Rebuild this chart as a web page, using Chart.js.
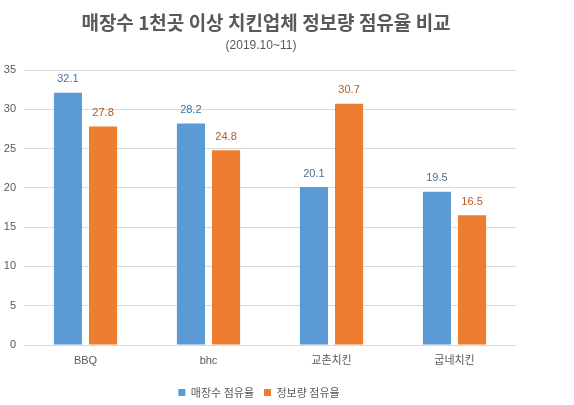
<!DOCTYPE html>
<html><head><meta charset="utf-8">
<script src="https://cdn.jsdelivr.net/npm/chart.js@4"></script>
<style>html,body{margin:0;padding:0;background:#fff;}#wrap{width:574px;height:405px;}</style>
</head><body><div id="wrap"><canvas id="c"></canvas></div>
<script>
const categories = ['BBQ', 'bhc', '교촌치킨', '굽네치킨'];
const storeShare = [32.1, 28.2, 20.1, 19.5];
const infoShare = [27.8, 24.8, 30.7, 16.5];
const seriesNames = ['매장수 점유율', '정보량 점유율'];
const yTicks = [0, 5, 10, 15, 20, 25, 30, 35];
const titleText = '매장수 1천곳 이상 치킨업체 정보량 점유율 비교';
const subtitleText = '(2019.10~11)';

const FONT = "'Liberation Sans', 'Noto Sans CJK KR', sans-serif";
const KFONT = "'Noto Sans CJK KR', sans-serif";
const labelColors = ['#41719C', '#AE5A21'];

const valueLabels = {
  id: 'valueLabels',
  afterDatasetsDraw(chart) {
    const ctx = chart.ctx;
    ctx.save();
    ctx.font = "11px " + FONT;
    ctx.textAlign = 'center';
    ctx.textBaseline = 'bottom';
    chart.data.datasets.forEach((ds, i) => {
      const meta = chart.getDatasetMeta(i);
      ctx.fillStyle = labelColors[i];
      meta.data.forEach((bar, j) => {
        ctx.fillText(ds.data[j].toFixed(1), bar.x, bar.y - 8);
      });
    });
    ctx.restore();
  }
};

const titles = {
  id: 'titles',
  afterDraw(chart) {
    const ctx = chart.ctx;
    ctx.save();
    ctx.fillStyle = '#595959';
    ctx.textAlign = 'center';
    ctx.textBaseline = 'middle';
    ctx.font = "bold 19px " + KFONT;
    ctx.fillText(titleText, 266, 23);
    ctx.font = "12px " + FONT;
    ctx.fillText(subtitleText, 261, 46);
    ctx.restore();
  }
};

new Chart(document.getElementById('c'), {
  type: 'bar',
  data: {
    labels: categories,
    datasets: [
      { label: seriesNames[0], data: storeShare, backgroundColor: '#5B9BD5', barPercentage: 0.8, categoryPercentage: 0.571 },
      { label: seriesNames[1], data: infoShare, backgroundColor: '#ED7D31', barPercentage: 0.8, categoryPercentage: 0.571 }
    ]
  },
  options: {
    responsive: true,
    maintainAspectRatio: false,
    animation: false,
    layout: { padding: { left: 2, right: 58, top: 70, bottom: -3 } },
    plugins: {
      title: { display: false },
      legend: {
        position: 'bottom',
        labels: { color: '#595959', font: { family: KFONT, size: 11 }, boxWidth: 7, boxHeight: 7, padding: 10 }
      },
      tooltip: { enabled: false }
    },
    scales: {
      x: {
        afterFit(axis) { axis.height = 32; },
        grid: { display: false, drawTicks: false },
        border: { display: false },
        ticks: { color: '#595959', font: { family: FONT, size: 11 }, padding: 9 }
      },
      y: {
        min: 0, max: 35,
        afterFit(axis) { axis.width = 22; },
        afterBuildTicks(axis) { axis.ticks = yTicks.map(v => ({ value: v })); },
        grid: { color: '#D9D9D9', drawTicks: false },
        border: { display: false },
        ticks: { color: '#595959', font: { family: FONT, size: 11 }, padding: 8 }
      }
    }
  },
  plugins: [valueLabels, titles]
});
</script></body></html>
